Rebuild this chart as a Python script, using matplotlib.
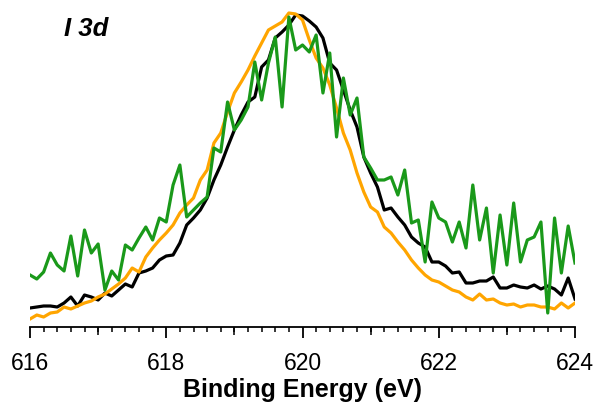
import numpy as np
import matplotlib
matplotlib.use("Agg")
import matplotlib.pyplot as plt
from matplotlib.ticker import MultipleLocator

# binding energy axis, 0.1 eV steps from 616 to 624
energy = np.round(np.arange(616.0, 624.05, 0.1), 1)

# intensities (arbitrary units)
black = [22, 23, 24, 24, 23, 27, 33, 24, 35, 33,
         30, 37, 34, 40, 46, 43, 57, 59, 62, 70,
         74, 75, 87, 105, 112, 120, 132, 150, 165, 183,
         200, 215, 228, 233, 263, 270, 292, 298, 305, 315,
         314, 309, 303, 292, 267, 260, 240, 220, 203, 173,
         157, 143, 120, 122, 113, 105, 93, 87, 83, 68,
         68, 64, 57, 58, 47, 47, 49, 49, 53, 42,
         42, 45, 43, 42, 45, 41, 44, 41, 35, 52,
         31]

orange = [11, 15, 13, 17, 18, 23, 21, 24, 27, 29,
          33, 36, 41, 46, 52, 62, 58, 73, 82, 90,
          97, 105, 117, 125, 132, 150, 160, 187, 197, 218,
          237, 248, 260, 274, 287, 300, 304, 308, 317, 316,
          310, 290, 272, 262, 245, 222, 197, 180, 157, 138,
          123, 118, 103, 97, 88, 80, 70, 62, 55, 50,
          48, 44, 40, 38, 33, 30, 36, 30, 31, 27,
          25, 26, 23, 25, 25, 23, 23, 21, 27, 22,
          27]

green = [55, 51, 58, 77, 65, 59, 94, 54, 100, 77,
         86, 40, 59, 50, 85, 80, 92, 103, 90, 112,
         108, 145, 165, 113, 120, 127, 133, 182, 178, 228,
         200, 210, 223, 268, 230, 267, 293, 223, 313, 280,
         285, 278, 295, 237, 277, 193, 252, 215, 232, 173,
         162, 150, 150, 153, 135, 160, 107, 110, 68, 128,
         112, 108, 88, 108, 82, 145, 90, 122, 57, 115,
         65, 127, 68, 90, 93, 108, 17, 112, 57, 104,
         67]

medium_ticks = [617, 619, 621, 623]
fonts = ["Liberation Sans", "DejaVu Sans"]

fig = plt.figure(figsize=(5.99, 4.08), dpi=100)
ax = fig.add_axes([30 / 599, 1 - 327 / 408, 545 / 599, 327 / 408])

lw = 2.3
ax.plot(energy, black, color="black", lw=lw)
ax.plot(energy, orange, color="#ffa500", lw=lw)
ax.plot(energy, green, color="#1a991a", lw=lw)

ax.set_xlim(616, 624)
ax.set_ylim(3, 330)

for side in ["top", "right", "left"]:
    ax.spines[side].set_visible(False)
ax.spines["bottom"].set_linewidth(1.3)
ax.set_yticks([])

ax.xaxis.set_major_locator(MultipleLocator(2))
ax.xaxis.set_minor_locator(MultipleLocator(0.2))
ax.tick_params(axis="x", which="major", length=8, width=1.3, pad=10,
               labelsize=16.5)
ax.tick_params(axis="x", which="minor", length=3.6, width=1.1)
for t in ax.get_xticklabels():
    t.set_family(fonts)

# slightly longer ticks on the odd integers
for e in medium_ticks:
    ax.plot([e, e], [0, -8 / 327], transform=ax.get_xaxis_transform(),
            color="black", lw=1.1, clip_on=False, solid_capstyle="butt")

ax.set_xlabel("Binding Energy (eV)", fontsize=18, fontweight="bold",
              family=fonts, labelpad=2)

fig.text(64 / 599, 1 - 36 / 408, "I 3d", fontsize=18.5, fontweight="bold",
         fontstyle="italic", family=fonts)

fig.savefig("out.png", dpi=100)
